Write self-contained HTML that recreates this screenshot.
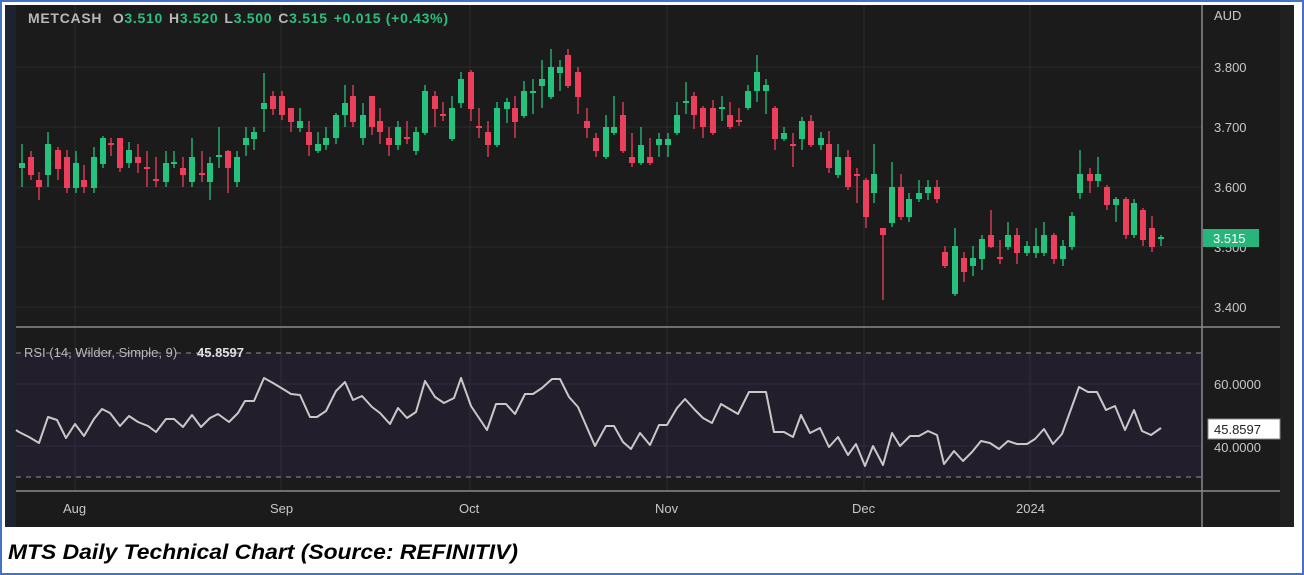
<!DOCTYPE html>
<html><head><meta charset="utf-8"><style>
html,body{margin:0;padding:0;background:#fff;}
svg{display:block;font-family:"Liberation Sans",sans-serif;}
</style></head><body>
<svg id="s" width="1304" height="575" viewBox="0 0 1304 575" xmlns="http://www.w3.org/2000/svg">
<rect x="1" y="1" width="1302" height="573" fill="#fff" stroke="#4472c4" stroke-width="2"/>
<rect x="5" y="5" width="1289" height="522" fill="#1b1b1b"/>
<rect x="5" y="5" width="11" height="522" fill="#1c2230"/>
<rect x="1280" y="5" width="14" height="522" fill="#202020"/>
<g stroke="#2b2b2b" stroke-width="1">
<line x1="16" y1="67" x2="1202" y2="67"/><line x1="16" y1="127" x2="1202" y2="127"/>
<line x1="16" y1="187" x2="1202" y2="187"/><line x1="16" y1="247" x2="1202" y2="247"/>
<line x1="16" y1="307" x2="1202" y2="307"/>
<line x1="75" y1="5" x2="75" y2="491"/><line x1="281" y1="5" x2="281" y2="491"/>
<line x1="470" y1="5" x2="470" y2="491"/><line x1="667" y1="5" x2="667" y2="491"/>
<line x1="864" y1="5" x2="864" y2="491"/><line x1="1030" y1="5" x2="1030" y2="491"/>
</g>
<rect x="16" y="353" width="1186" height="124" fill="#241f2d" opacity="0.95"/>
<g stroke="#322c3d"><line x1="16" y1="384" x2="1202" y2="384"/><line x1="16" y1="446" x2="1202" y2="446"/>
<line x1="75" y1="353" x2="75" y2="477"/><line x1="281" y1="353" x2="281" y2="477"/><line x1="470" y1="353" x2="470" y2="477"/><line x1="667" y1="353" x2="667" y2="477"/><line x1="864" y1="353" x2="864" y2="477"/><line x1="1030" y1="353" x2="1030" y2="477"/></g>
<g stroke="#7a7a7a" stroke-dasharray="5,5" stroke-width="1.3"><line x1="16" y1="353" x2="1202" y2="353"/><line x1="16" y1="477" x2="1202" y2="477"/></g>
<g stroke="#8a8a8a" stroke-width="1.5">
<line x1="16" y1="327" x2="1280" y2="327"/><line x1="16" y1="491" x2="1280" y2="491"/>
<line x1="1202" y1="5" x2="1202" y2="527"/></g>
<g id="c"></g>
<polyline id="rsi" fill="none" stroke="#c8c8c8" stroke-width="2" stroke-linejoin="round" points=""/>
<text x="28" y="23" font-size="14" font-weight="bold" fill="#b8b8b8" textLength="420" lengthAdjust="spacing">METCASH <tspan dx="6">O</tspan><tspan fill="#2bbf7e">3.510</tspan><tspan dx="6">H</tspan><tspan fill="#2bbf7e">3.520</tspan><tspan dx="6">L</tspan><tspan fill="#2bbf7e">3.500</tspan><tspan dx="6">C</tspan><tspan fill="#2bbf7e">3.515</tspan><tspan dx="6" fill="#2bbf7e">+0.015 (+0.43%)</tspan></text>
<g font-size="13" fill="#c8c8c8">
<text x="1214" y="20">AUD</text>
<text x="1214" y="72">3.800</text><text x="1214" y="132">3.700</text><text x="1214" y="192">3.600</text>
<text x="1214" y="252">3.500</text><text x="1214" y="312">3.400</text>
<text x="1214" y="389">60.0000</text><text x="1214" y="452">40.0000</text>
<text x="63" y="513">Aug</text><text x="270" y="513">Sep</text><text x="459" y="513">Oct</text>
<text x="655" y="513">Nov</text><text x="852" y="513">Dec</text><text x="1016" y="513">2024</text>
<text x="24" y="357" fill="#b8b8b8">RSI (14, Wilder, Simple, 9)</text><text x="197" y="357" fill="#e0e0e0" font-weight="bold">45.8597</text>
</g>
<rect x="1203" y="229" width="56" height="18" fill="#26b57a"/>
<text x="1213" y="243" font-size="13" fill="#fff">3.515</text>
<rect x="1208" y="419" width="72" height="20" fill="#fff" stroke="#888"/>
<text x="1214" y="434" font-size="13" fill="#222">45.8597</text>
<text x="8" y="559" font-size="21" font-weight="bold" font-style="italic" fill="#000" textLength="510" lengthAdjust="spacingAndGlyphs">MTS Daily Technical Chart (Source: REFINITIV)</text>
</svg>
<script>
var d=[
[22,168,163,144,187],[31,157,175,151,180],[39,180,187,172,200],[48,175,144,132,187],[58,150,169,147,180],[67,157,188,150,193],[76,188,163,151,193],[84,180,187,165,193],[94,188,157,147,193],[103,164,138,136,168],[111,143,145,138,156],[120,138,168,138,172],[129,163,150,142,168],[138,157,163,144,173],[147,167,169,151,187],[156,179,181,157,187],[166,182,163,151,187],[174,164,162,151,168],[183,168,175,157,187],[192,182,157,138,187],[202,173,175,151,182],[210,182,163,157,200],[219,157,155,127,168],[228,151,168,150,193],[237,182,157,151,187],[246,145,138,127,156],[254,139,132,127,150],[264,109,103,73,132],[273,96,109,91,115],[282,96,115,91,120],[291,108,122,108,132],[300,128,121,108,132],[309,132,145,121,156],[318,151,144,132,153],[326,145,138,127,150],[336,138,115,113,144],[345,115,103,85,127],[353,96,122,85,127],[363,138,115,103,145],[372,96,127,96,135],[380,121,132,108,144],[389,138,145,127,156],[398,145,127,121,150],[407,137,139,121,144],[416,151,132,127,155],[425,133,91,85,135],[435,96,109,91,127],[443,114,116,102,121],[452,139,108,96,141],[461,103,79,72,108],[471,72,109,70,121],[479,126,128,108,138],[488,132,145,121,157],[497,145,108,102,147],[507,109,102,98,123],[515,108,122,96,138],[524,116,91,81,118],[533,93,91,79,114],[542,86,79,60,108],[551,97,67,49,99],[560,73,67,60,91],[568,55,86,49,88],[578,72,97,67,114],[587,121,128,108,138],[596,138,151,133,157],[606,157,127,115,159],[614,133,127,96,135],[623,115,151,102,153],[632,157,163,133,167],[641,163,145,127,165],[650,157,163,138,165],[659,145,139,133,157],[668,145,139,133,157],[677,133,115,102,135],[686,103,101,82,114],[694,96,115,92,129],[703,108,127,106,138],[713,108,133,100,135],[722,109,107,96,121],[730,115,127,102,129],[739,120,122,108,126],[748,108,91,85,110],[757,91,72,55,102],[766,91,85,79,114],[775,108,139,106,150],[784,139,133,127,141],[793,144,146,133,167],[802,139,121,117,150],[811,121,145,115,147],[821,145,138,132,150],[829,144,168,131,173],[838,175,157,144,178],[848,157,187,150,190],[857,174,176,168,203],[866,180,217,178,228],[874,193,174,144,203],[883,228,235,228,300],[892,223,187,162,227],[901,187,217,174,220],[909,217,199,193,222],[919,199,193,180,202],[928,193,187,180,200],[937,187,199,180,203],[945,252,266,246,268],[955,294,246,228,296],[964,258,272,252,282],[973,266,258,246,276],[982,259,239,235,270],[991,235,247,210,248],[1000,257,259,240,264],[1008,247,235,222,250],[1017,235,253,228,264],[1027,253,246,241,256],[1036,253,246,228,258],[1044,253,235,222,256],[1054,235,259,233,264],[1063,259,246,240,266],[1072,247,216,212,250],[1080,193,174,150,199],[1090,174,181,168,193],[1098,181,174,157,187],[1107,187,205,185,210],[1116,205,199,197,222],[1126,199,235,197,239],[1134,235,203,199,238],[1143,210,240,208,246],[1152,228,247,216,252],[1161,239,237,235,246]];
var g=document.getElementById('c'),h='';
d.forEach(function(a){var x=a[0],o=a[1],c=a[2],up=c<=o;var col=up?'#24c27c':'#ec3f5c';
var t=Math.min(o,c),b=Math.max(o,c);if(b-t<2){t-=1;b+=1;}
h+='<line x1="'+x+'" y1="'+a[3]+'" x2="'+x+'" y2="'+a[4]+'" stroke="'+col+'" stroke-width="1.3"/>';
h+='<rect x="'+(x-3)+'" y="'+t+'" width="6" height="'+(b-t)+'" fill="'+col+'"/>';});
g.innerHTML=h;
var r=[[16,430],[19,432],[29,437],[39,443],[48,417],[57,420],[66,438],[75,424],[84,436],[94,419],[102,409],[110,413],[120,426],[129,416],[138,422],[148,426],[156,432],[166,419],[174,419],[183,427],[192,415],[201,427],[210,418],[218,414],[229,422],[238,413],[245,401],[254,401],[264,378],[273,383],[283,389],[291,394],[300,395],[310,417],[317,417],[326,411],[336,391],[345,382],[353,400],[362,396],[372,407],[380,413],[390,424],[398,408],[407,418],[416,412],[425,381],[435,397],[444,403],[454,398],[461,378],[471,406],[487,430],[496,404],[506,404],[515,414],[525,394],[533,394],[542,388],[552,379],[560,379],[569,397],[578,407],[595,446],[606,426],[614,426],[623,442],[631,449],[640,433],[650,445],[659,425],[667,425],[677,408],[685,399],[695,410],[703,418],[712,423],[721,404],[738,414],[749,392],[766,392],[774,432],[784,432],[793,437],[801,415],[810,433],[820,428],[829,447],[838,437],[848,455],[856,444],[865,466],[873,446],[883,465],[892,433],[900,446],[910,436],[919,436],[928,431],[937,435],[944,464],[954,451],[963,461],[972,452],[981,441],[990,443],[999,449],[1008,441],[1017,444],[1027,444],[1035,439],[1044,429],[1053,444],[1062,434],[1079,387],[1088,392],[1097,392],[1106,410],[1115,406],[1125,430],[1134,410],[1142,431],[1151,435],[1161,428]];
document.getElementById('rsi').setAttribute('points',r.map(function(p){return p.join(',')}).join(' '));
</script>
</body></html>
